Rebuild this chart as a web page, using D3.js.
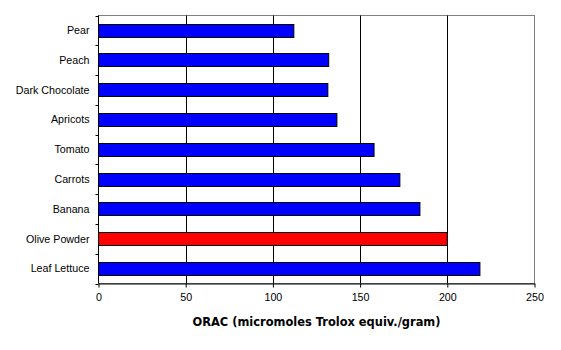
<!DOCTYPE html>
<html>
<head>
<meta charset="utf-8">
<script src="https://cdn.jsdelivr.net/npm/d3@7"></script>
<style>
  html, body { margin: 0; padding: 0; background: #fff; }
  svg { display: block; }
</style>
</head>
<body>
<svg id="chart" width="561" height="350"></svg>
<script>
// ORAC values per food, top to bottom
const categories = ["Pear", "Peach", "Dark Chocolate", "Apricots", "Tomato", "Carrots", "Banana", "Olive Powder", "Leaf Lettuce"];
const values = [112, 132, 131.5, 136.7, 158, 172.8, 184.3, 200, 218.7];
const highlighted = ["Olive Powder"];
const xTicks = [0, 50, 100, 150, 200, 250];
const axisTitle = "ORAC (micromoles Trolox equiv./gram)";

const svg = d3.select("#chart");
const plot = { left: 98.5, top: 15.5, right: 534.5, bottom: 283.5 };

const x = d3.scaleLinear().domain([0, 250]).range([plot.left, plot.right]);
const y = d3.scaleBand().domain(categories).range([plot.top, plot.bottom]).paddingInner(0.55).paddingOuter(0.275);
const yBand = d3.scaleBand().domain(categories).range([plot.top, plot.bottom]);

// plot frame (top and right in grey)
svg.append("rect")
  .attr("x", plot.left).attr("y", plot.top)
  .attr("width", plot.right - plot.left).attr("height", plot.bottom - plot.top)
  .attr("fill", "none").attr("stroke", "#808080").attr("stroke-width", 1);

// vertical gridlines
svg.append("g")
  .selectAll("line")
  .data(xTicks.filter(d => d > 0 && d < 250))
  .join("line")
  .attr("x1", d => Math.round(x(d)) + 0.5).attr("x2", d => Math.round(x(d)) + 0.5)
  .attr("y1", plot.top).attr("y2", plot.bottom)
  .attr("stroke", "#000").attr("stroke-width", 1);

// bars
svg.append("g")
  .selectAll("rect")
  .data(categories.map((c, i) => ({ c, v: values[i] })))
  .join("rect")
  .attr("x", x(0))
  .attr("y", d => Math.round(y(d.c)) + 0.5)
  .attr("width", d => x(d.v) - x(0))
  .attr("height", Math.round(y.bandwidth()))
  .attr("fill", d => highlighted.includes(d.c) ? "#ff0000" : "#0000ff")
  .attr("stroke", "#000").attr("stroke-width", 1);

// bottom axis
const xAxis = d3.axisBottom(x).tickValues(xTicks).tickSizeInner(4).tickSizeOuter(0).tickPadding(6);
const gx = svg.append("g").attr("transform", `translate(0,${plot.bottom})`).call(xAxis);
gx.select(".domain").attr("stroke", "#000");
gx.selectAll(".tick line").attr("stroke", "#000");
gx.selectAll(".tick text")
  .attr("font-family", "'Liberation Sans', Arial, sans-serif")
  .attr("font-size", "10.7px").attr("fill", "#000");

// left axis: ticks at band boundaries, labels at band centres
const gy = svg.append("g").attr("transform", `translate(${plot.left},0)`);
gy.append("line")
  .attr("x1", 0).attr("x2", 0).attr("y1", plot.top).attr("y2", plot.bottom)
  .attr("stroke", "#000");
const bounds = categories.map(c => yBand(c)).concat([plot.bottom]);
gy.selectAll("line.tick")
  .data(bounds)
  .join("line")
  .attr("class", "tick")
  .attr("x1", -3).attr("x2", 0)
  .attr("y1", d => Math.round(d) + 0.5).attr("y2", d => Math.round(d) + 0.5)
  .attr("stroke", "#000");
gy.selectAll("text")
  .data(categories)
  .join("text")
  .attr("x", -9)
  .attr("y", d => yBand(d) + yBand.bandwidth() / 2)
  .attr("dy", "0.35em")
  .attr("text-anchor", "end")
  .attr("font-family", "'Liberation Sans', Arial, sans-serif")
  .attr("font-size", "10.7px")
  .attr("fill", "#000")
  .text(d => d);

// axis title
svg.append("text")
  .attr("x", (plot.left + plot.right) / 2)
  .attr("y", 326)
  .attr("text-anchor", "middle")
  .attr("font-family", "'DejaVu Sans', Verdana, sans-serif")
  .attr("font-weight", "bold")
  .attr("font-size", "12px")
  .attr("textLength", 248)
  .attr("lengthAdjust", "spacingAndGlyphs")
  .attr("fill", "#000")
  .text(axisTitle);
</script>
</body>
</html>
